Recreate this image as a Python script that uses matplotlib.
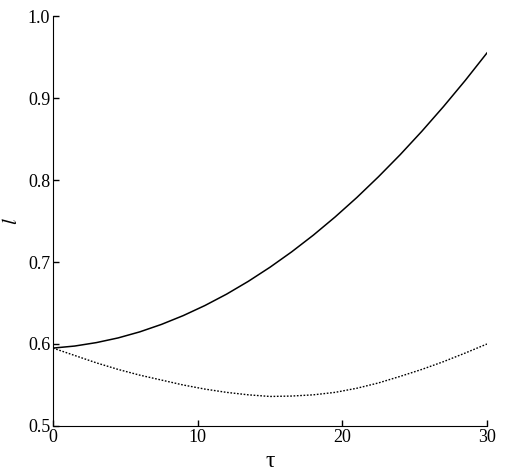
import matplotlib
matplotlib.use("Agg")
import matplotlib.pyplot as plt

plt.rcParams['font.family'] = ['Liberation Serif', 'DejaVu Serif']
plt.rcParams['mathtext.fontset'] = 'stix'

tau = [0, 1.5, 3, 4.5, 6, 7.5, 9, 10.5, 12, 13.5, 15,
       16.5, 18, 19.5, 21, 22.5, 24, 25.5, 27, 28.5, 30]
l_solid = [0.595, 0.5975, 0.6017, 0.6074, 0.6148, 0.6239, 0.6346, 0.6469, 0.6608, 0.6764, 0.6936,
           0.7124, 0.7328, 0.7549, 0.7786, 0.8040, 0.8309, 0.8595, 0.8897, 0.9215, 0.955]
l_dotted = [0.595, 0.586, 0.577, 0.569, 0.562, 0.556, 0.550, 0.545, 0.541, 0.538, 0.536,
            0.5365, 0.538, 0.541, 0.546, 0.5525, 0.5605, 0.569, 0.5785, 0.589, 0.600]

fig = plt.figure(figsize=(5.07, 4.75), dpi=100)
ax = fig.add_axes([0.1045, 0.1032, 0.856, 0.863])

ax.plot(tau, l_solid, color='black', lw=1.1)
ax.plot(tau, l_dotted, color='black', lw=1.0, linestyle=(0, (1.2, 1.2)))

ax.set_xlim(0, 30)
ax.set_ylim(0.5, 1.0)
ax.set_xticks([0, 10, 20, 30])
ax.set_yticks([0.5, 0.6, 0.7, 0.8, 0.9, 1.0])
ax.set_yticklabels(['0.5', '0.6', '0.7', '0.8', '0.9', '1.0'])
for s in ['top', 'right']:
    ax.spines[s].set_visible(False)
ax.tick_params(direction='in', length=4, width=1, labelsize=13, pad=2)
ax.set_xlabel('τ', fontsize=17, labelpad=4)
ax.set_ylabel(r'$l$', fontsize=15, labelpad=4)

fig.savefig('out.png', dpi=100)
